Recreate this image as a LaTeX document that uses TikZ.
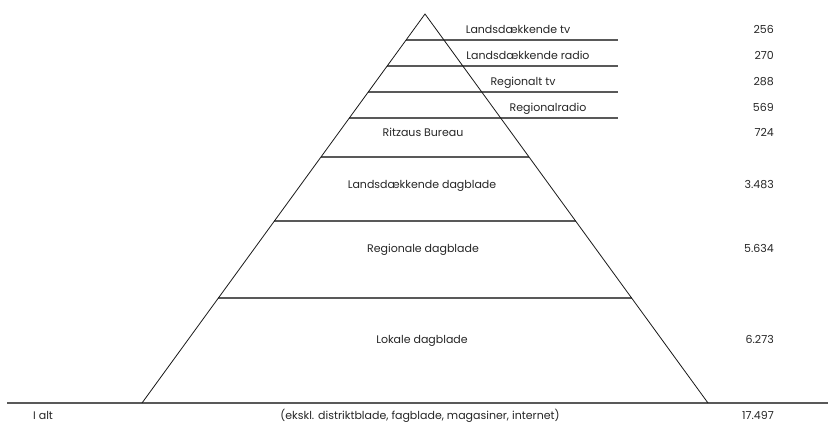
\documentclass[tikz,border=0pt]{standalone}
\usepackage{fontspec}
\setmainfont{Poppins}
\begin{document}
\begin{tikzpicture}[x=1pt,y=-1pt,
  lbl/.style={font=\fontsize{11}{12}\selectfont, text=black!85, inner sep=0pt, anchor=base},
  num/.style={lbl, anchor=base east},
  band/.style={draw=black!65, line width=1.1pt},
  side/.style={draw=black!90, line width=0.8pt}]
\useasboundingbox (0,0) rectangle (828,426);
% apex and base corners
\coordinate (apex) at (425,14);
\coordinate (bl) at (142,403);
\coordinate (br) at (708,403);
\coordinate (gl) at (7,403);
\coordinate (gr) at (828,403);
% band lines
\coordinate (a1) at (406.1,40);  \coordinate (b1) at (618,40);
\coordinate (a2) at (387.2,66);  \coordinate (b2) at (618,66);
\coordinate (a3) at (368.3,92);  \coordinate (b3) at (618,92);
\coordinate (a4) at (349.4,118); \coordinate (b4) at (618,118);
\coordinate (a5) at (321.0,157); \coordinate (b5) at (529.0,157);
\coordinate (a6) at (274.4,221); \coordinate (b6) at (575.6,221);
\coordinate (a7) at (218.4,298); \coordinate (b7) at (631.6,298);
\draw[band] (a1) -- (b1);
\draw[band] (a2) -- (b2);
\draw[band] (a3) -- (b3);
\draw[band] (a4) -- (b4);
\draw[band] (a5) -- (b5);
\draw[band] (a6) -- (b6);
\draw[band] (a7) -- (b7);
\draw[band, line width=1.4pt] (gl) -- (gr);
\draw[side] (bl) -- (apex) -- (br);
% labels
\node[lbl] (t1) at (518,33.5) {Landsdækkende tv};
\node[lbl] (t2) at (528,59.5) {Landsdækkende radio};
\node[lbl] (t3) at (523,85.5) {Regionalt tv};
\node[lbl] (t4) at (548,111.5) {Regionalradio};
\node[lbl] (t5) at (423,136.5) {Ritzaus Bureau};
\node[lbl] (t6) at (422,188.5) {Landsdækkende dagblade};
\node[lbl] (t7) at (423,252) {Regionale dagblade};
\node[lbl] (t8) at (422,343.5) {Lokale dagblade};
\node[lbl, anchor=base west] (t9) at (33,419.5) {I alt};
\node[lbl] (t10) at (420,419.5) {(ekskl. distriktblade, fagblade, magasiner, internet)};
% numbers
\node[num] (n1) at (774,33.5) {256};
\node[num] (n2) at (774,59.5) {270};
\node[num] (n3) at (774,85.5) {288};
\node[num] (n4) at (774,111.5) {569};
\node[num] (n5) at (774,136.5) {724};
\node[num] (n6) at (774,188.5) {3.483};
\node[num] (n7) at (774,252) {5.634};
\node[num] (n8) at (774,343.5) {6.273};
\node[num] (n9) at (774,419.5) {17.497};
\end{tikzpicture}
\end{document}
